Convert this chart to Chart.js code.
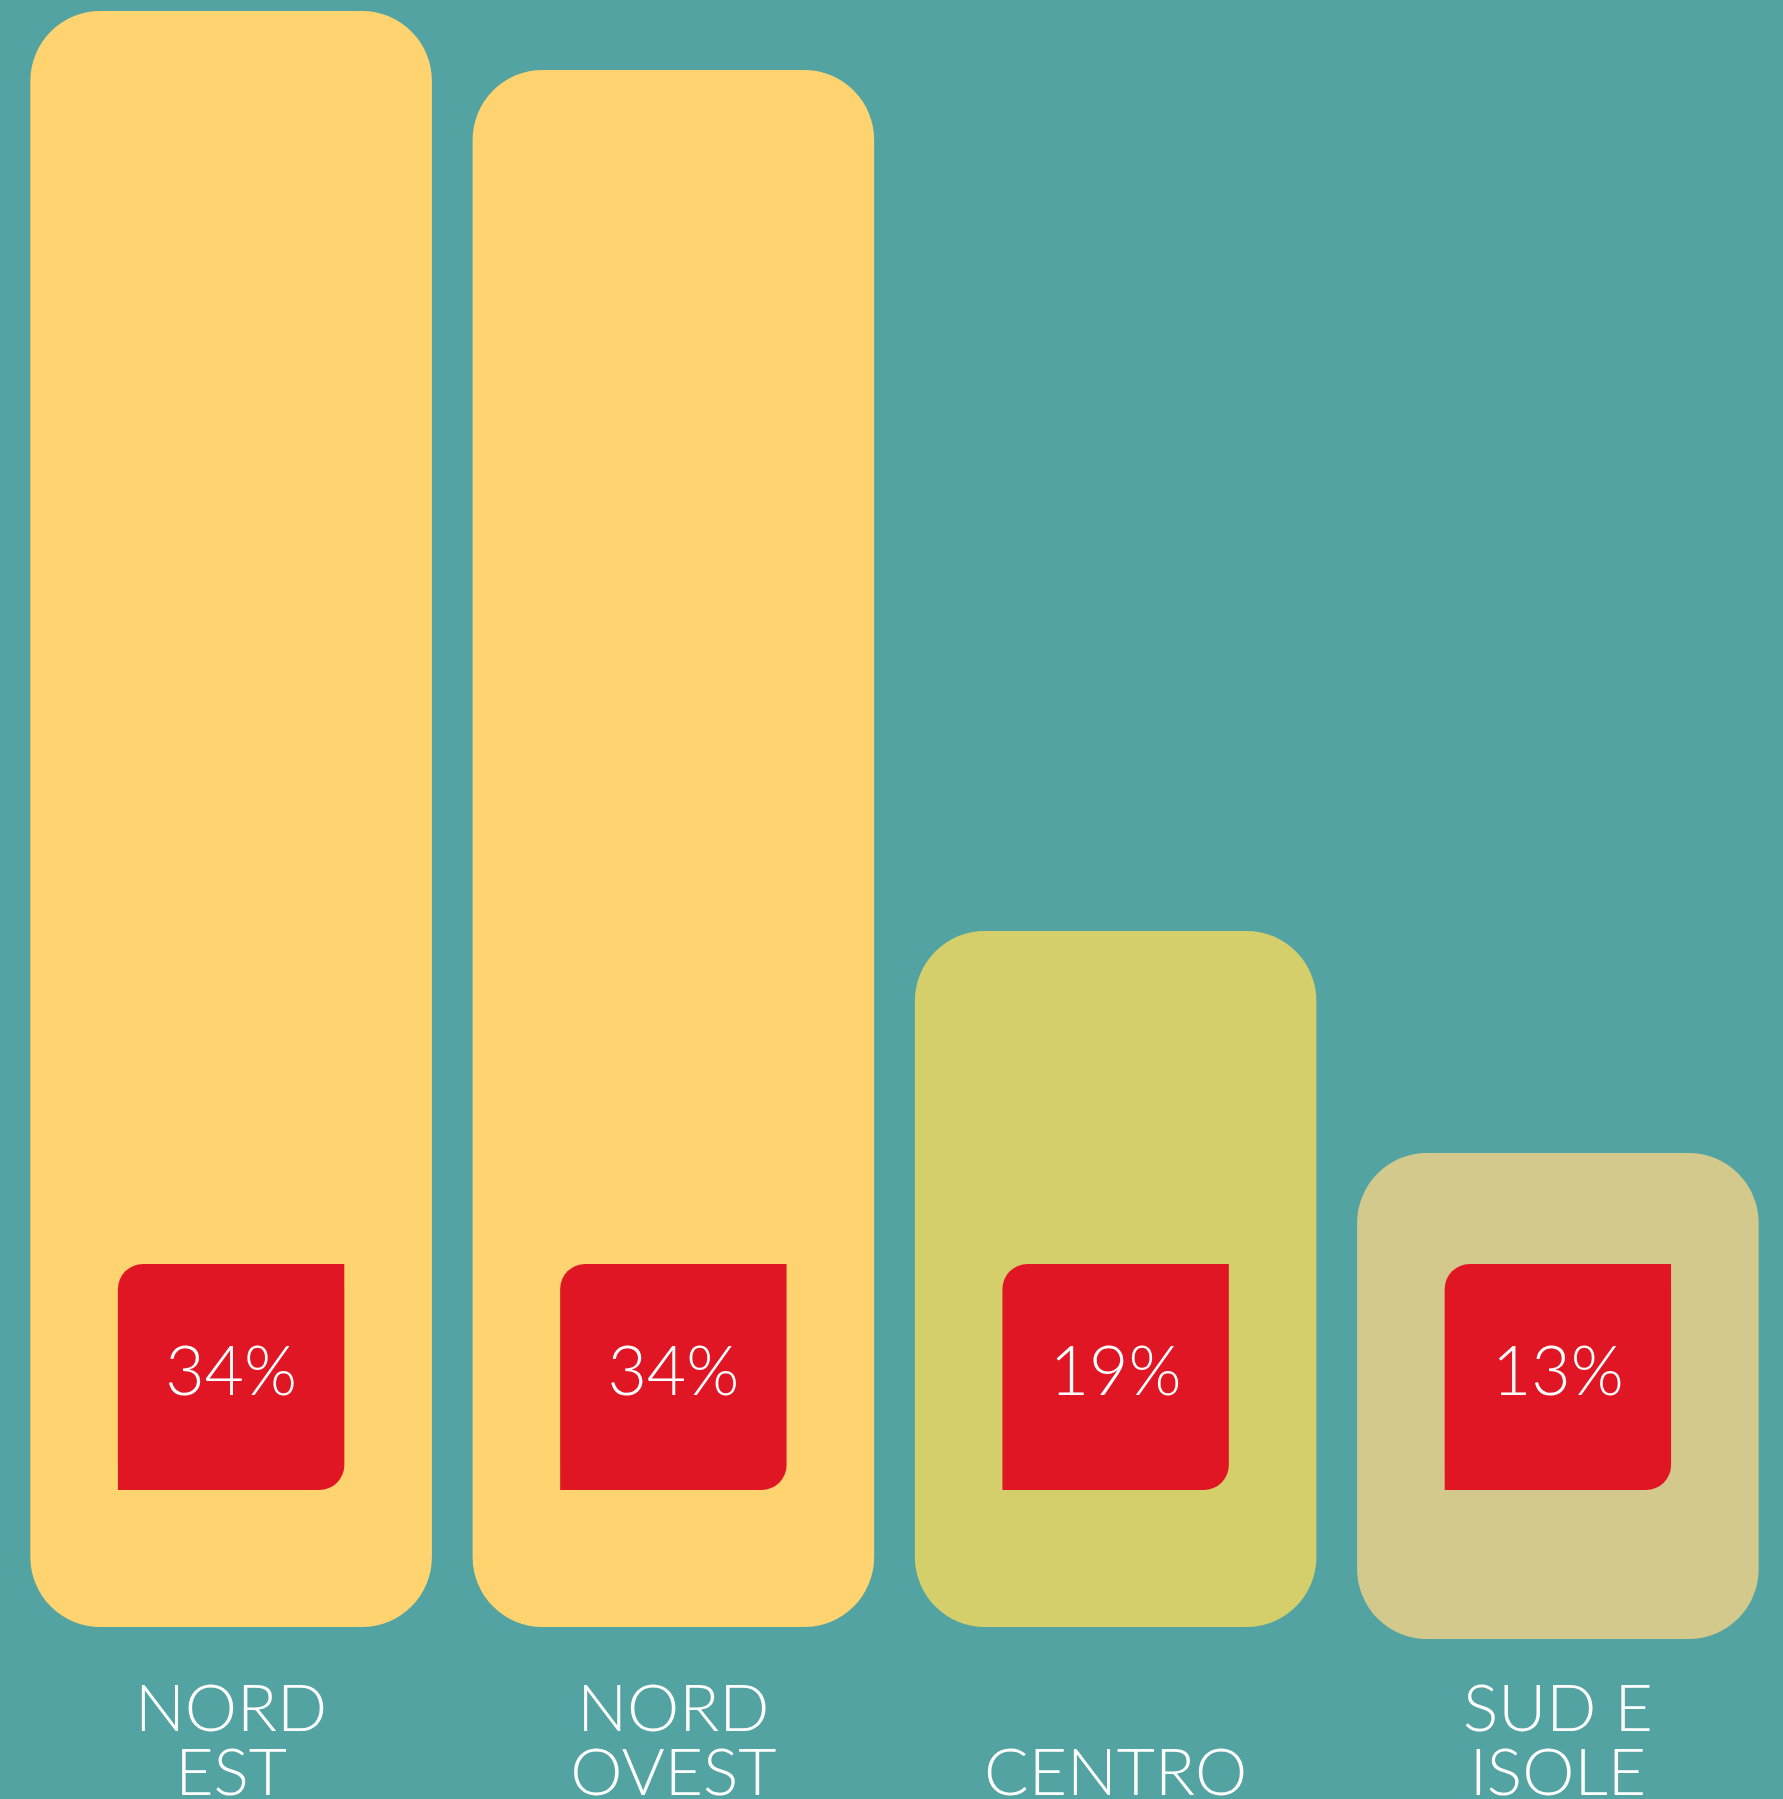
<!DOCTYPE html>
<html>
<head>
<meta charset="utf-8">
<script src="https://cdn.jsdelivr.net/npm/chart.js@4"></script>
<style>
  html, body { margin: 0; padding: 0; background: #53a3a3; }
  canvas { display: block; }
</style>
</head>
<body>
<canvas id="regioni-chart" width="1783" height="1799"></canvas>
<script>
// data
const regioni = [['NORD', 'EST'], ['NORD', 'OVEST'], ['', 'CENTRO'], ['SUD E', 'ISOLE']];
const percentuali = [34, 34, 19, 13];
// bar extents in chart units (floating: [base, top])
const barre = [[13, 1629], [13, 1570], [13, 709], [1, 487]];
const riquadri = [[150, 376], [150, 376], [150, 376], [150, 376]];
const coloriBarre = ['#ffd36f', '#ffd36f', '#d4cf6a', '#d4c98c'];

const percentLabels = {
  id: 'percentLabels',
  afterDatasetsDraw(chart) {
    const ctx = chart.ctx;
    const meta = chart.getDatasetMeta(0);
    ctx.save();
    ctx.fillStyle = '#ffffff';
    ctx.font = '300 68px Lato';
    ctx.textAlign = 'center';
    ctx.textBaseline = 'middle';
    meta.data.forEach((bar, i) => {
      ctx.fillText(percentuali[i] + '%', bar.x, (bar.y + bar.base) / 2 - 4);
    });
    ctx.restore();
  }
};

function regioniChart() {
  const el = document.getElementById('regioni-chart');
  new Chart(el, {
    type: 'bar',
    data: {
      labels: regioni,
      datasets: [{
        label: 'percentuale',
        data: riquadri,
        backgroundColor: '#e11624',
        grouped: false,
        barPercentage: 0.512,
        categoryPercentage: 1,
        borderSkipped: false,
        borderRadius: { topLeft: 25, topRight: 0, bottomLeft: 0, bottomRight: 25 },
        order: 0
      }, {
        label: 'regione',
        data: barre,
        backgroundColor: coloriBarre,
        grouped: false,
        barPercentage: 0.908,
        categoryPercentage: 1,
        borderSkipped: false,
        borderRadius: 70,
        order: 1
      }]
    },
    options: {
      responsive: false,
      animation: false,
      events: [],
      layout: { padding: { left: 10, right: 4, top: 0, bottom: 0 } },
      plugins: {
        legend: { display: false },
        tooltip: { enabled: false }
      },
      scales: {
        x: {
          grid: { display: false },
          border: { display: false },
          ticks: {
            color: '#ffffff',
            padding: 30,
            maxRotation: 0,
            autoSkip: false,
            font: { family: 'Lato', weight: 300, size: 66, lineHeight: 0.97 }
          },
          afterFit(scale) { scale.height = 159; }
        },
        y: {
          display: false,
          min: 0,
          max: 1640
        }
      }
    },
    plugins: [percentLabels]
  });
}

regioniChart()
</script>
</body>
</html>
